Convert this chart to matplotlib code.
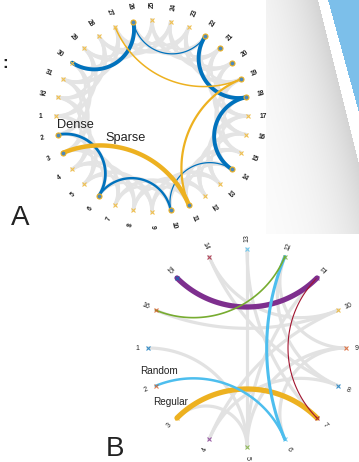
import numpy as np
import matplotlib
matplotlib.use("Agg")
import matplotlib.pyplot as plt

# ---------------- data ----------------
# Panel A: ring of 32 nodes
a_nodes = list(range(1, 33))
a_lattice_steps = [3, 4]
a_lattice_widths = [1.8, 2.6]
dense_path = [30, 26, 22, 18, 14, 10, 6, 2]
dense_widths = [2.8, 0.9, 2.8, 2.8, 0.9, 1.7, 2.0]
sparse_path = [27, 19, 11, 3]
sparse_widths = [1.1, 1.6, 3.2]
a_marked_nodes = [2, 3, 6, 10, 11, 14, 18, 19, 20, 21, 22, 26]

# Panel B: ring of 16 nodes
b_nodes = list(range(1, 17))
b_gray_edges = [(16, 10), (14, 10), (14, 8), (13, 5), (13, 7), (12, 8), (1, 5),
                (4, 10), (5, 9), (5, 11), (3, 5), (6, 9), (4, 8), (12, 9)]
b_color_edges = [(15, 11), (3, 7), (12, 6), (2, 6), (16, 12), (11, 7)]
b_color_edge_colors = ["#7E2F8E", "#EDB120", "#4DBEEE", "#4DBEEE", "#77AC30", "#A2142F"]
b_color_edge_widths = [3.8, 3.8, 2.2, 1.8, 1.2, 0.8]
matlab_colors = ["#0072BD", "#D95319", "#EDB120", "#7E2F8E", "#77AC30", "#4DBEEE", "#A2142F"]

W, H = 359, 462
fig = plt.figure(figsize=(W / 100, H / 100), dpi=100)

# ---------------- background decoration ----------------
bg = fig.add_axes([0, 0, 1, 1])
bg.set_axis_off()
yy, xx = np.mgrid[0:H, 0:W] + 0.5
img = np.ones((H, W, 3))
band_left = 318 + 0.25 * yy
blue_left = 328 + 0.275 * yy
d = band_left - xx
g = np.where(d > 0, 0.17 * np.exp(-d / 42.0), 0.0)
g[(xx < 266) | (yy > 234)] = 0
for c in range(3):
    img[..., c] -= g
blue_mask = (xx > blue_left) & (yy < 234)
img[blue_mask] = np.array([0.49, 0.75, 0.92])
bg.imshow(img, extent=[0, W, H, 0], aspect="auto", interpolation="bilinear")
bg.set_xlim(0, W)
bg.set_ylim(H, 0)


def arc_points(a, b, n=120):
    p1 = np.array([np.cos(a), np.sin(a)])
    p2 = np.array([np.cos(b), np.sin(b)])
    delta = (b - a + np.pi) % (2 * np.pi) - np.pi
    if abs(abs(delta) - np.pi) < 1e-6:
        t = np.linspace(0, 1, n)[:, None]
        pts = p1 + (p2 - p1) * t
        return pts[:, 0], pts[:, 1]
    m = a + delta / 2
    dist = 1 / np.cos(delta / 2)
    r = abs(np.tan(delta / 2))
    C = dist * np.array([np.cos(m), np.sin(m)])
    t1 = np.arctan2(*(p1 - C)[::-1])
    t2 = np.arctan2(*(p2 - C)[::-1])
    dt = (t2 - t1 + np.pi) % (2 * np.pi) - np.pi
    t = t1 + dt * np.linspace(0, 1, n)
    return C[0] + r * np.cos(t), C[1] + r * np.sin(t)


def make_ax(cx, cy, R, lim=1.3):
    size = 2 * lim * R
    left = (cx - lim * R) / W
    bottom = 1 - (cy + lim * R) / H
    ax = fig.add_axes([left, bottom, size / W, size / H])
    ax.set_xlim(-lim, lim)
    ax.set_ylim(-lim, lim)
    ax.set_axis_off()
    ax.patch.set_alpha(0)
    return ax


def label_rot(ang_deg):
    r = ang_deg % 360
    if 90 < r < 270:
        r -= 180
    elif r >= 270:
        r -= 360
    return r


# ---------------- Panel A ----------------
axA = make_ax(152, 116, 96)
nA = len(a_nodes)
angA = {k: np.deg2rad(180 + (k - 1) * 360 / nA) for k in a_nodes}

for step, lw in zip(a_lattice_steps, a_lattice_widths):
    for k in a_nodes:
        j = (k - 1 + step) % nA + 1
        x, y = arc_points(angA[k], angA[j])
        axA.plot(x, y, color="#e4e4e4", lw=lw, solid_capstyle="round", zorder=1)

for (u, v), lw in zip(zip(dense_path[:-1], dense_path[1:]), dense_widths):
    x, y = arc_points(angA[u], angA[v])
    axA.plot(x, y, color="#0072BD", lw=lw, solid_capstyle="round", zorder=3)
for (u, v), lw in zip(zip(sparse_path[:-1], sparse_path[1:]), sparse_widths):
    x, y = arc_points(angA[u], angA[v])
    axA.plot(x, y, color="#EDB120", lw=lw, solid_capstyle="round", zorder=3)

for k in a_nodes:
    x, y = np.cos(angA[k]), np.sin(angA[k])
    if k in a_marked_nodes:
        axA.plot(x, y, "o", ms=3.6, mfc="#4f88b8", mec="#EDB120", mew=0.8, zorder=5)
    else:
        axA.plot(x, y, "x", ms=2.6, mew=0.8, color="#f0c050", zorder=5)
    deg = np.rad2deg(angA[k])
    axA.text(1.16 * x, 1.16 * y, str(k), fontsize=4.8, fontweight="bold",
             family="Liberation Sans", color="#222222",
             rotation=label_rot(deg), rotation_mode="anchor",
             ha="center", va="center", clip_on=False)

# ---------------- Panel B ----------------
axB = make_ax(247, 348, 99)
nB = len(b_nodes)
angB = {k: np.deg2rad(180 + (k - 1) * 360 / nB) for k in b_nodes}

for u, v in b_gray_edges:
    x, y = arc_points(angB[u], angB[v])
    axB.plot(x, y, color="#e2e2e2", lw=2.3, solid_capstyle="round", zorder=1)
for (u, v), col, lw in zip(b_color_edges, b_color_edge_colors, b_color_edge_widths):
    x, y = arc_points(angB[u], angB[v])
    axB.plot(x, y, color=col, lw=lw, solid_capstyle="round", zorder=3)

for k in b_nodes:
    x, y = np.cos(angB[k]), np.sin(angB[k])
    col = matlab_colors[(k - 1) % len(matlab_colors)]
    axB.plot(x, y, "x", ms=2.8, mew=0.8, color=col, alpha=0.75, zorder=5)
    deg = np.rad2deg(angB[k])
    axB.text(1.11 * x, 1.11 * y, str(k), fontsize=5, family="Liberation Sans",
             color="#222222", rotation=label_rot(deg), rotation_mode="anchor",
             ha="center", va="center", clip_on=False)

# ---------------- texts ----------------
def ftext(x, y, s, **kw):
    fig.text(x / W, 1 - y / H, s, family="Liberation Sans", color="#222222", **kw)

ftext(57, 125, "Dense", fontsize=9.2, ha="left", va="center")
ftext(105, 138, "Sparse", fontsize=9.2, ha="left", va="center")
ftext(140, 371, "Random", fontsize=7.2, ha="left", va="center")
ftext(153, 402, "Regular", fontsize=7.2, ha="left", va="center")
ftext(11, 218, "A", fontsize=20, ha="left", va="center")
ftext(106, 449, "B", fontsize=20, ha="left", va="center")
ftext(2, 63, ":", fontsize=12, fontweight="bold", ha="left", va="center")

fig.savefig("out.png", dpi=100)
